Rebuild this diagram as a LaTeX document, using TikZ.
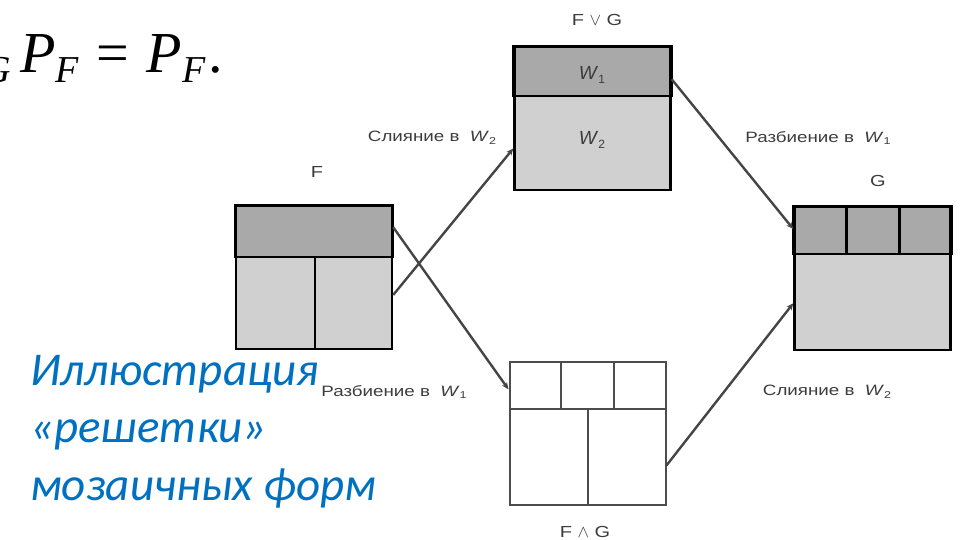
\documentclass[tikz,border=0pt]{standalone}
\usepackage{fontspec}
\setmainfont{Liberation Sans}
\newfontfamily\eqfont{Liberation Serif}
\newfontfamily\notefont{Carlito}
\newfontfamily\labelfont[FakeStretch=1.25]{Liberation Sans}
\usetikzlibrary{arrows.meta,calc}

\definecolor{banddark}{HTML}{A9A9A9}
\definecolor{bandlight}{HTML}{D0D0D0}
\definecolor{linkgray}{HTML}{454545}
\definecolor{labelgray}{HTML}{3C3C3C}
\definecolor{noteblue}{HTML}{0070C0}

\tikzset{
  tile/.style={draw=black, line width=2.4pt, minimum width=156pt, minimum height=143pt, inner sep=0pt},
  tilefill/.style={tile, fill=bandlight},
  tileempty/.style={draw=black!70, line width=2pt, minimum width=156pt, minimum height=143pt, inner sep=0pt, fill=white},
  cut/.style={draw=black, line width=2.4pt},
  thincut/.style={draw=black!70, line width=2pt},
  link/.style={draw=linkgray, line width=2.4pt, -{Stealth[length=7pt,width=6pt]}},
  steplabel/.style={text=labelgray, font=\labelfont\fontsize{15}{17}\selectfont, inner sep=0pt},
  formlabel/.style={text=labelgray, font=\labelfont\fontsize{16}{18}\selectfont, inner sep=0pt},
  cellword/.style={text=labelgray, font=\fontsize{19}{21}\selectfont, inner sep=0pt},
  noteline/.style={anchor=base west, text=noteblue, inner sep=0pt, font=\notefont\itshape\fontsize{47}{58}\selectfont},
}
\newcommand{\Wsub}[1]{\textit{W}\raisebox{-0.35ex}{\fontsize{10}{11}\selectfont #1}}
\newcommand{\Wbig}[1]{\textit{W}\raisebox{-0.35ex}{\fontsize{12}{13}\selectfont #1}}
\newcommand{\eqsub}[1]{\raisebox{-0.16em}{\fontsize{38}{40}\selectfont\textit{#1}}}

\begin{document}
\begin{tikzpicture}[x=1pt,y=-1pt]
\useasboundingbox (0,0) rectangle (960,540);
\clip (0,0) rectangle (960,540);

% formula fragment at top left
\node (eq) [anchor=base west, inner sep=0pt, font=\eqfont\fontsize{58}{60}\selectfont] at (-17,73)
  {\eqsub{G}\,\textit{P}\eqsub{F}\hspace{17pt}=\hspace{18pt}\textit{P}\eqsub{F}\hspace{3pt}.};

% F
\node (F) [tilefill] at (314,277.5) {};
\draw[cut, fill=banddark] (F.north west) rectangle ($(F.north east)+(0,52)$);
\draw[cut] ($(F.north west)!0.505!(F.north east)+(0,52)$) -- ($(F.south west)!0.505!(F.south east)$);
\node (F) [tile] at (314,277.5) {};
\node (Flabel) [formlabel] at (317,172) {F};

% F v G
\node (J) [tilefill] at (592.5,118.5) {};
\draw[cut, fill=banddark] (J.north west) rectangle ($(J.north east)+(0,50)$);
\node (J) [tile] at (592.5,118.5) {};
\node (Jw1) [cellword] at (592,75) {\Wbig{1}};
\node (Jw2) [cellword] at (592,140) {\Wbig{2}};
\node (Jlabel) [formlabel] at (597,20) {F $\vee$ G};

% G
\node (G) [tilefill] at (872.5,278.5) {};
\draw[cut, fill=banddark] (G.north west) rectangle ($(G.north east)+(0,48)$);
\draw[cut] ($(G.north west)!0.335!(G.north east)$) -- ++(0,48);
\draw[cut] ($(G.north west)!0.67!(G.north east)$) -- ++(0,48);
\node (G) [tile] at (872.5,278.5) {};
\node (Glabel) [formlabel] at (878,181) {G};

% F ^ G
\node (M) [tileempty] at (587.5,433.5) {};
\draw[thincut] ($(M.north west)+(0,48)$) -- ($(M.north east)+(0,48)$);
\draw[thincut] ($(M.north west)!0.33!(M.north east)$) -- ++(0,48);
\draw[thincut] ($(M.north west)!0.665!(M.north east)$) -- ++(0,48);
\draw[thincut] ($(M.north west)!0.5!(M.north east)+(0,48)$) -- ($(M.south west)!0.5!(M.south east)$);
\node (Mlabel) [formlabel] at (585,532) {F $\wedge$ G};

% transitions
\path[link] ($(F.north east)!0.62!(F.south east)$) -- ($(J.north west)!0.706!(J.south west)$);
\path[link] ($(F.north east)!0.154!(F.south east)$) -- ($(M.north west)!0.196!(M.south west)$);
\path[link] ($(J.north east)!0.23!(J.south east)$) -- ($(G.north west)!0.16!(G.south west)$);
\path[link] ($(M.north east)!0.72!(M.south east)$) -- ($(G.north west)!0.67!(G.south west)$);

\node (s1) [steplabel] at (432,138) {Слияние в \ \Wsub{2}};
\node (s2) [steplabel] at (818,138) {Разбиение в \ \Wsub{1}};
\node (s3) [steplabel] at (394,392) {Разбиение в \ \Wsub{1}};
\node (s4) [steplabel] at (827,392) {Слияние в \ \Wsub{2}};

% caption
\node (note1) [noteline] at (30,385) {Иллюстрация};
\node (note2) [noteline] at (30,442) {«решетки»};
\node (note3) [noteline] at (30,500) {мозаичных форм};
\end{tikzpicture}
\end{document}
